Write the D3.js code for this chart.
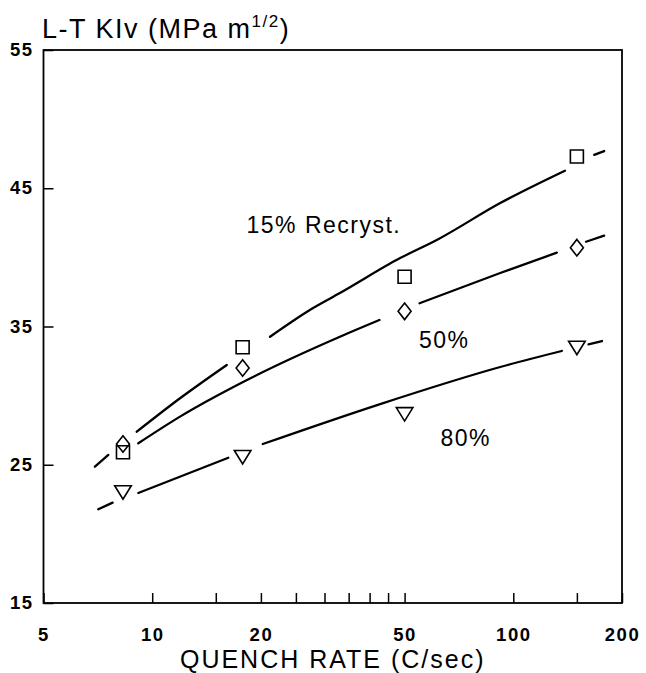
<!DOCTYPE html>
<html>
<head>
<meta charset="utf-8">
<script src="https://cdn.jsdelivr.net/npm/d3@7"></script>
<style>
  body { margin: 0; background: #fff; }
  svg { display: block; font-family: "Liberation Sans", Arial, sans-serif; }
</style>
</head>
<body>
<div id="chart"></div>
<script>
// quench rate (C/sec) of the measured points
const rates = [8.3, 17.8, 50, 150];
// L-T KIv for each recrystallization level
const kiv15 = [25.9, 33.5, 38.6, 47.3];
const kiv50 = [26.5, 32.0, 36.1, 40.7];
const kiv80 = [23.05, 25.6, 28.7, 33.5];

// hand drawn fit curves, one array per stroke
const fit15 = [
  [[6.94, 24.86], [7.56, 25.71]],
  [[9.06, 27.39], [11.94, 29.81], [16.09, 32.22]],
  [[21.2, 34.26], [27.9, 36.34], [33.1, 37.42], [48.6, 39.95], [61.4, 41.26], [92, 43.93], [139, 46.27]],
  [[167.5, 47.41], [178.5, 47.69]]
];
const fit50 = [
  [[9.15, 26.55], [11.94, 28.48], [18.3, 31.13], [33.1, 34.26], [42.6, 35.47]],
  [[55, 36.68], [92, 38.87], [132, 40.34]],
  [[159, 41.13], [178.5, 41.57]]
];
const fit80 = [
  [[7.09, 21.78], [7.77, 22.26]],
  [[9.15, 22.96], [16.25, 25.51]],
  [[20.24, 26.5], [42.8, 29.39], [92, 32.07], [136.3, 33.23]],
  [[161.5, 33.71], [176, 33.95]]
];

const xTicks = [5, 10, 15, 20, 25, 30, 35, 40, 45, 50, 100, 150, 200];
const xLabels = [5, 10, 20, 50, 100, 200];
const yTicks = [15, 25, 35, 45, 55];

const width = 646, height = 673;
const m = { left: 43.5, right: 622, top: 50, bottom: 603 };

const x = d3.scaleLog().domain([5, 200]).range([m.left, m.right]);
const y = d3.scaleLinear().domain([15, 55]).range([m.bottom, m.top]);

const svg = d3.select("#chart").append("svg")
  .attr("width", width)
  .attr("height", height);

// axes, ticks inside the frame
const xAxis = svg.append("g")
  .attr("transform", `translate(0,${m.bottom})`)
  .call(d3.axisBottom(x)
    .tickValues(xTicks)
    .tickSize(-10)
    .tickPadding(25)
    .tickFormat(d => xLabels.includes(d) ? d : ""));

const yAxis = svg.append("g")
  .attr("transform", `translate(${m.left},0)`)
  .call(d3.axisLeft(y)
    .tickValues(yTicks)
    .tickSize(-10)
    .tickPadding(10)
    .tickFormat(d => d));

[xAxis, yAxis].forEach(g => {
  g.select(".domain").remove();
  g.selectAll(".tick line").attr("stroke", "#000").attr("stroke-width", 1.5);
  g.selectAll(".tick text")
    .attr("fill", "#000")
    .style("font-size", "18.5px")
    .style("font-weight", "bold")
    .style("letter-spacing", "1.5px");
});
yAxis.selectAll(".tick text").attr("dy", "0.3em");

// frame
svg.append("rect")
  .attr("x", m.left).attr("y", m.top)
  .attr("width", m.right - m.left).attr("height", m.bottom - m.top)
  .attr("fill", "none")
  .attr("stroke", "#000")
  .attr("stroke-width", 1.8);

// fit curves
const line = d3.line()
  .x(d => x(d[0]))
  .y(d => y(d[1]))
  .curve(d3.curveMonotoneX);

[fit15, fit50, fit80].forEach(curve => {
  svg.append("g").selectAll("path")
    .data(curve)
    .join("path")
    .attr("d", line)
    .attr("fill", "none")
    .attr("stroke", "#000")
    .attr("stroke-width", 2.3)
    .attr("stroke-linecap", "round");
});

// markers
const square = "M-6.5,-6.5H6.5V6.5H-6.5Z";
const diamond = "M0,-8.3L6.5,0L0,8.3L-6.5,0Z";
const triangle = "M-8.3,-6L8.3,-6L0,7.5Z";

const series = [
  { values: kiv15, shape: square },
  { values: kiv50, shape: diamond },
  { values: kiv80, shape: triangle }
];

series.forEach(s => {
  svg.append("g").selectAll("path")
    .data(rates.map((r, i) => [r, s.values[i]]))
    .join("path")
    .attr("transform", d => `translate(${x(d[0])},${y(d[1])})`)
    .attr("d", s.shape)
    .attr("fill", "none")
    .attr("stroke", "#000")
    .attr("stroke-width", 1.6);
});

// curve labels
const labelStyle = sel => sel
  .style("font-size", "23px")
  .style("letter-spacing", "1.5px")
  .attr("fill", "#000");

svg.append("text").attr("x", 246.5).attr("y", 233).text("15% Recryst.").call(labelStyle);
svg.append("text").attr("x", 419).attr("y", 348).text("50%").call(labelStyle);
svg.append("text").attr("x", 440.5).attr("y", 445.5).text("80%").call(labelStyle);

// axis titles
const yTitle = svg.append("text")
  .attr("x", 42).attr("y", 38)
  .style("font-size", "27px")
  .style("letter-spacing", "1.5px")
  .attr("fill", "#000");
yTitle.append("tspan").text("L-T KIv (MPa m");
yTitle.append("tspan").attr("dy", -11).style("font-size", "17px").text("1/2");
yTitle.append("tspan").attr("dy", 11).text(")");

svg.append("text")
  .attr("x", (m.left + m.right) / 2).attr("y", 668)
  .attr("text-anchor", "middle")
  .style("font-size", "25px")
  .style("letter-spacing", "2px")
  .attr("fill", "#000")
  .text("QUENCH RATE (C/sec)");
</script>
</body>
</html>
